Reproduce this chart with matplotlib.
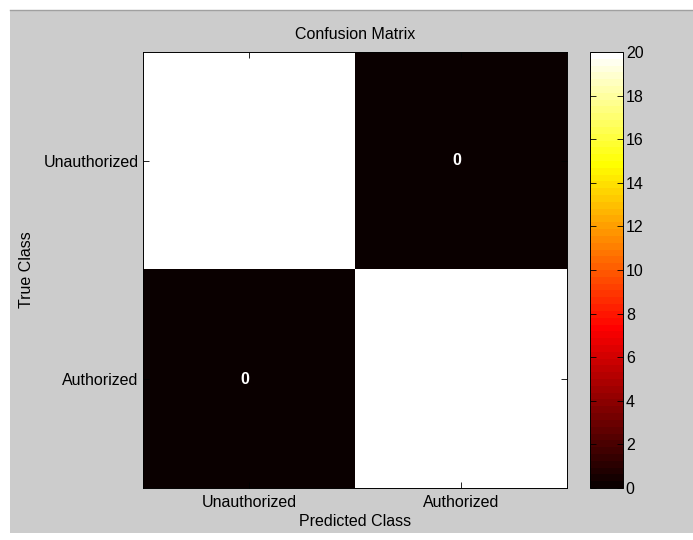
import numpy as np
import matplotlib
matplotlib.use("Agg")
import matplotlib.pyplot as plt
from matplotlib.patches import Rectangle

classes = ["Unauthorized", "Authorized"]
matrix = np.array([[20, 0],
                   [0, 20]])
cbar_ticks = list(range(0, 21, 2))

plt.rcParams['font.family'] = ['Liberation Sans', 'DejaVu Sans']
FS = 11.5
W, H = 693, 540
fig = plt.figure(figsize=(W / 100, H / 100), dpi=100, facecolor='white')

# grey MATLAB figure background
bg = Rectangle((10 / W, 1 - 533 / H), (W - 10) / W, (533 - 10) / H,
               transform=fig.transFigure, facecolor='#cccccc',
               edgecolor='none', zorder=-10)
fig.patches.append(bg)
fig.add_artist(plt.Line2D([10 / W, 1], [1 - 10 / H, 1 - 10 / H],
                          transform=fig.transFigure, color='#a0a0a0', lw=1))

ax = fig.add_axes([143 / W, 1 - 488 / H, (567 - 143) / W, (488 - 52) / H])
cmap = plt.get_cmap('hot', 64)
im = ax.imshow(matrix, cmap=cmap, vmin=0, vmax=20, aspect='auto',
               interpolation='nearest')

for i in range(matrix.shape[0]):
    for j in range(matrix.shape[1]):
        ax.text(j - 0.02, i, str(matrix[i, j]), ha='center', va='center',
                color='white', fontsize=FS, fontweight='bold')

ax.set_xticks(range(len(classes)))
ax.set_xticklabels(classes, fontsize=FS)
ax.set_yticks(range(len(classes)))
ax.set_yticklabels(classes, fontsize=FS)
ax.tick_params(direction='in', top=True, right=True, length=4, width=0.6)
ax.tick_params(axis='x', pad=5)
ax.tick_params(axis='y', pad=3)
ax.set_xlabel('Predicted Class', fontsize=FS, labelpad=3)
ax.set_ylabel('True Class', fontsize=FS, labelpad=7)
ax.set_title('Confusion Matrix', fontsize=FS, pad=9)
for s in ax.spines.values():
    s.set_linewidth(0.7)

cax = fig.add_axes([590 / W, 1 - 488 / H, (623 - 590) / W, (488 - 52) / H])
cb = fig.colorbar(im, cax=cax, ticks=cbar_ticks)
cax.tick_params(direction='in', left=True, right=True, length=4, width=0.6,
                labelsize=FS, pad=2)
cb.outline.set_linewidth(0.7)

fig.savefig('out.png', dpi=100, facecolor=fig.get_facecolor())
